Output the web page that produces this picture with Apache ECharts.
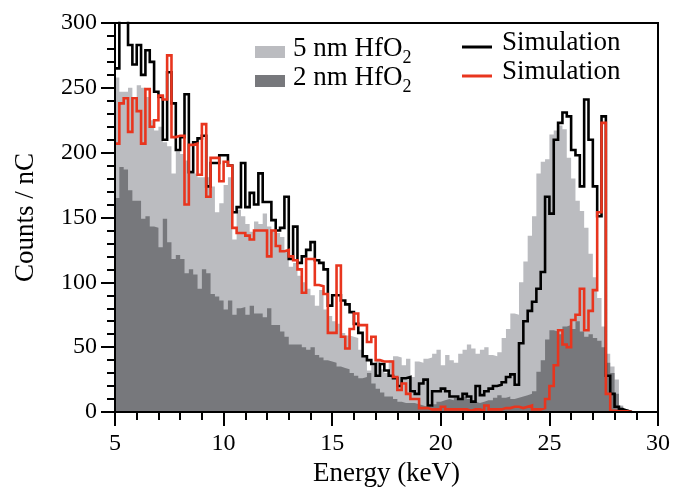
<!DOCTYPE html>
<html>
<head>
<meta charset="utf-8">
<title>HfO2 spectra</title>
<script src="https://cdn.jsdelivr.net/npm/echarts@6.0.0/dist/echarts.min.js"></script>
<style>
  html, body { margin: 0; padding: 0; background: #fff; }
  #chart { width: 675px; height: 497px; }
</style>
</head>
<body>
<div id="chart"></div>
<script>
// histogram bins: 0.2 keV wide, first bin starts at 5 keV
var binStart = 5;
var binWidth = 0.2;

// measured, 5 nm HfO2 (light grey)
var counts5nm = [
  258, 247, 247, 250, 241, 252, 250, 243, 225, 217,
  220, 208, 205, 184, 201, 199, 194, 184, 184, 181,
  181, 181, 174, 154, 161, 175, 181, 133, 156, 151,
  145, 139, 147, 145, 153, 143, 140, 138, 135, 125,
  112, 115, 105, 100, 95, 90, 82, 94, 79, 74,
  70, 68, 61, 59, 58, 57, 48, 44, 32, 36,
  40, 33, 30, 40, 43, 42, 36, 41, 27, 39,
  38, 41, 42, 45, 48, 36, 44, 40, 38, 45,
  48, 52, 49, 45, 48, 50, 44, 43, 46, 57,
  64, 76, 75, 100, 116, 136, 151, 184, 193, 195,
  214, 217, 221, 218, 196, 180, 163, 155, 142, 122,
  104, 88, 66, 45, 35, 25, 5, 2, 1
];

// measured, 2 nm HfO2 (dark grey)
var counts2nm = [
  165, 189, 187, 171, 163, 163, 149, 151, 143, 142,
  127, 149, 131, 118, 121, 118, 107, 110, 106, 95,
  110, 107, 91, 89, 86, 79, 86, 75, 80, 81,
  75, 82, 76, 76, 73, 80, 67, 67, 62, 58,
  52, 52, 52, 50, 48, 50, 44, 42, 40, 39,
  38, 35, 34, 33, 30, 28, 26, 27, 30, 22,
  18, 15, 12, 12, 10, 8, 7, 7, 7, 6,
  5, 4, 4, 6, 8, 9, 10, 9, 11, 10,
  12, 10, 8, 7, 8, 9, 9, 11, 13, 11,
  12, 10, 11, 12, 13, 14, 16, 31, 40, 56,
  63, 62, 60, 66, 67, 64, 70, 62, 58, 60,
  57, 55, 50, 38, 30, 14, 4, 2, 1
];

// simulation for 5 nm (black)
var sim5nm = [
  265, 310, 310, 283, 268, 283, 260, 279, 270, 247,
  243, 210, 262, 238, 202, 212, 245, 185, 208, 211,
  213, 174, 192, 192, 198, 198, 190, 154, 158, 192,
  158, 169, 160, 184, 162, 162, 148, 140, 142, 166,
  118, 143, 115, 120, 125, 131, 117, 115, 110, 82,
  90, 90, 86, 83, 77, 68, 61, 43, 40, 37,
  28, 37, 32, 28, 26, 20, 26, 27, 16, 14,
  22, 25, 5, 16, 16, 18, 16, 12, 12, 10,
  14, 12, 8, 20, 13, 16, 18, 20, 21, 23,
  27, 29, 21, 53, 70, 78, 85, 95, 108, 166,
  153, 210, 223, 231, 228, 202, 198, 174, 241, 210,
  174, 151, 228, 28, 14, 4, 2, 1, 0
];

// simulation for 2 nm (red)
var sim2nm = [
  207, 238, 242, 216, 242, 232, 207, 249, 220, 225,
  244, 241, 275, 212, 213, 213, 160, 206, 207, 183,
  222, 166, 196, 196, 178, 193, 190, 142, 138, 138,
  136, 133, 140, 140, 140, 120, 140, 128, 124, 125,
  120, 117, 110, 92, 118, 118, 98, 97, 91, 61,
  61, 113, 58, 49, 64, 76, 67, 67, 54, 58,
  40, 39, 39, 39, 27, 17, 22, 14, 10, 10,
  3, 3, 2, 2, 2, 4, 2, 2, 2, 2,
  2, 1, 2, 2, 1, 5, 2, 2, 2, 3,
  3, 4, 4, 3, 4, 5, 2, 2, 3, 10,
  20, 36, 63, 52, 50, 71, 75, 95, 63, 78,
  94, 154, 223, 14, 1, 0.5, 0.5, 0.5, 0
];

var xTicks = [5, 10, 15, 20, 25, 30];
var yTicks = [0, 50, 100, 150, 200, 250, 300];

var legendNames = ['5 nm HfO', '2 nm HfO', 'Simulation', 'Simulation'];

var colLight = '#bbbcc0';
var colDark = '#77787c';
var colBlack = '#000000';
var colRed = '#e8351e';
var serif = '"Liberation Serif", "DejaVu Serif", serif';

// [x, y] pairs for a step histogram (step at the end of each bin)
function toSteps(values) {
  var pts = values.map(function (v, i) {
    return [binStart + i * binWidth, v];
  });
  pts.push([binStart + values.length * binWidth, values[values.length - 1]]);
  return pts;
}

function filledHist(name, values, color, z) {
  return {
    name: name,
    type: 'line',
    step: 'end',
    symbol: 'none',
    z: z,
    lineStyle: { width: 0 },
    itemStyle: { color: color },
    areaStyle: { color: color, opacity: 1 },
    data: toSteps(values)
  };
}

function lineHist(name, values, color, z) {
  return {
    name: name,
    type: 'line',
    step: 'end',
    symbol: 'none',
    z: z,
    lineStyle: { width: 2.6, color: color, join: 'miter' },
    itemStyle: { color: color },
    data: toSteps(values)
  };
}

function axisCommon() {
  return {
    z: 10,
    axisLine: { show: true, onZero: false, lineStyle: { color: '#000', width: 2 } },
    axisTick: { show: true, inside: false, length: 14, lineStyle: { color: '#000', width: 2 } },
    minorTick: { show: true, splitNumber: 5, length: 8, lineStyle: { color: '#000', width: 2 } },
    splitLine: { show: false },
    minorSplitLine: { show: false },
    nameTextStyle: { fontFamily: serif, fontSize: 27, color: '#000' }
  };
}

var xAxis = Object.assign(axisCommon(), {
  type: 'value',
  min: xTicks[0],
  max: xTicks[xTicks.length - 1],
  interval: xTicks[1] - xTicks[0],
  name: 'Energy (keV)',
  nameLocation: 'middle',
  nameGap: 35,
  axisLabel: { fontFamily: serif, fontSize: 24, color: '#000', margin: 20 }
});

var yAxis = Object.assign(axisCommon(), {
  type: 'value',
  min: yTicks[0],
  max: yTicks[yTicks.length - 1],
  interval: yTicks[1] - yTicks[0],
  name: 'Counts / nC',
  nameLocation: 'middle',
  nameGap: 76,
  axisLabel: { fontFamily: serif, fontSize: 24, color: '#000', margin: 18 }
});

// legend drawn by hand: the icons sit a little lower than the text, as in the original
var richSub = {
  a: { fontFamily: serif, fontSize: 27, lineHeight: 27, verticalAlign: 'top', color: '#000' },
  s: { fontFamily: serif, fontSize: 18, lineHeight: 18, padding: [14, 0, 0, 0], verticalAlign: 'top', color: '#000' }
};

var legendGraphic = [
  { type: 'rect', shape: { x: 255, y: 46, width: 30, height: 12 }, style: { fill: colLight } },
  { type: 'rect', shape: { x: 255, y: 75, width: 30, height: 12 }, style: { fill: colDark } },
  {
    type: 'text', x: 293, y: 49,
    style: { text: '{a|' + legendNames[0] + '}{s|2}', rich: richSub, verticalAlign: 'middle', align: 'left' }
  },
  {
    type: 'text', x: 293, y: 78,
    style: { text: '{a|' + legendNames[1] + '}{s|2}', rich: richSub, verticalAlign: 'middle', align: 'left' }
  },
  { type: 'line', shape: { x1: 462, y1: 47, x2: 492, y2: 47 }, style: { stroke: colBlack, lineWidth: 3 } },
  { type: 'line', shape: { x1: 462, y1: 76, x2: 492, y2: 76 }, style: { stroke: colRed, lineWidth: 3 } },
  {
    type: 'text', x: 502, y: 43,
    style: { text: legendNames[2], font: '27px ' + serif, fill: '#000', verticalAlign: 'middle', align: 'left' }
  },
  {
    type: 'text', x: 502, y: 72,
    style: { text: legendNames[3], font: '27px ' + serif, fill: '#000', verticalAlign: 'middle', align: 'left' }
  }
];

var option = {
  animation: false,
  backgroundColor: '#fff',
  grid: {
    left: 115, right: 17, top: 23, bottom: 85,
    show: true, borderColor: '#000', borderWidth: 2, backgroundColor: 'transparent'
  },
  xAxis: xAxis,
  yAxis: yAxis,
  series: [
    filledHist('5 nm HfO2', counts5nm, colLight, 1),
    filledHist('2 nm HfO2', counts2nm, colDark, 2),
    lineHist('Simulation 5 nm', sim5nm, colBlack, 3),
    lineHist('Simulation 2 nm', sim2nm, colRed, 4)
  ],
  graphic: legendGraphic
};

var myChart = echarts.init(document.getElementById('chart'), null, { renderer: 'canvas' });
myChart.setOption(option);
</script>
</body>
</html>
